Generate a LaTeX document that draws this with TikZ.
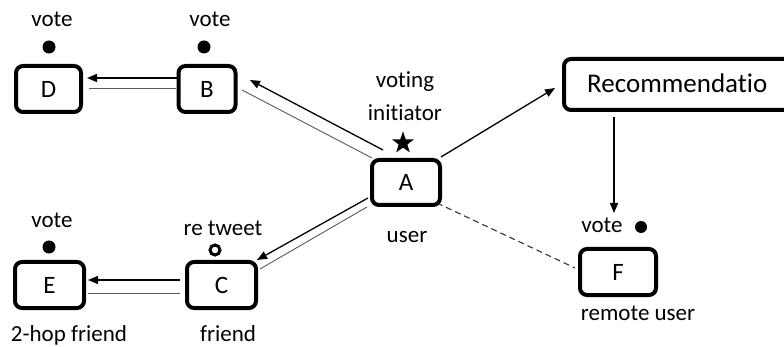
\documentclass[tikz,border=0pt]{standalone}
\usepackage{fontspec}
\setmainfont[Ligatures=NoCommon]{Carlito}
\usetikzlibrary{arrows.meta,shapes.geometric}
\tikzset{
  box/.style={draw=black, line width=4pt, rounded corners=7pt, inner sep=0pt, minimum height=46pt, font=\fontsize{25}{29}\selectfont},
  lbl/.style={inner sep=0pt, anchor=base, font=\fontsize{23}{27}\selectfont},
  arr/.style={draw=black, line width=1.3pt, -{Triangle[length=10pt,width=8pt]}},
  plain/.style={draw=black!65, line width=0.9pt},
  dashln/.style={draw=black!80, line width=1.1pt, dash pattern=on 6pt off 4pt},
  dot/.style={circle, fill=black, inner sep=0pt, minimum size=13pt},
  odot/.style={circle, draw=black, line width=3pt, inner sep=0pt, minimum size=10pt},
}
\begin{document}
\begin{tikzpicture}[x=1pt, y=-1pt]
\useasboundingbox (0,0) rectangle (784,347);
\clip (0,0) rectangle (784,347);
% boxes
\node[box, minimum width=65pt] (D) at (48.5,89) {D};
\node[box, minimum width=57pt] (B) at (207,89) {B};
\node[box, minimum width=68pt, minimum height=45pt] (A) at (406,182.5) {A};
\node[box, minimum width=69pt] (C) at (221.5,285) {C};
\node[box, minimum width=69pt] (E) at (49.5,285) {E};
\node[box, minimum width=76pt] (F) at (618,272) {F};
\node[box, minimum width=236pt, minimum height=51pt] (R) at (682,84.5) {};
\node[inner sep=0pt, anchor=base west, font=\fontsize{27}{32}\selectfont] (Rt) at (587,93) {Recommendatio};
% labels
\node[lbl] (vD) at (52,27) {vote};
\node[lbl] (vB) at (210,27) {vote};
\node[lbl] (vt1) at (405,88) {voting};
\node[lbl] (vt2) at (405,121) {initiator};
\node[lbl] (uA) at (407,243) {user};
\node[lbl] (vE) at (52,228) {vote};
\node[lbl] (rt) at (223,236) {re tweet};
\node[lbl] (hop) at (69,341) {2-hop friend};
\node[lbl] (fr) at (228,341) {friend};
\node[lbl] (vF) at (602,233) {vote};
\node[lbl] (ru) at (638,320) {remote user};
% markers
\node[dot] (dD) at (49,47) {};
\node[dot] (dB) at (204,47) {};
\node[dot] (dE) at (49,247) {};
\node[dot, minimum size=12pt] (dF) at (641,227) {};
\node[odot] (oC) at (215,250) {};
\node[star, star points=5, star point ratio=2.5, fill=black, inner sep=0pt, minimum size=23pt] (st) at (403,143) {};
% connectors
\draw[arr] ([shift={(-30,-11)}]B.center) -- ([shift={(38.5,-11)}]D.center);
\draw[plain] ([shift={(-31,-1)}]B.center) -- ([shift={(40.5,-1)}]D.center);
\draw[arr] ([shift={(-41.5,-5)}]C.center) -- ([shift={(38.5,-5)}]E.center);
\draw[plain] ([shift={(-41.5,8)}]C.center) -- ([shift={(38.5,8)}]E.center);
\draw[arr] ([shift={(-23,-32.5)}]A.center) -- ([shift={(43,-9)}]B.center);
\draw[plain] ([shift={(-34,-24.5)}]A.center) -- ([shift={(35,1)}]B.center);
\draw[arr] ([shift={(-38,15.5)}]A.center) -- ([shift={(35.5,-25)}]C.center);
\draw[plain] ([shift={(-39,24.5)}]A.center) -- ([shift={(38.5,-16)}]C.center);
\draw[arr] ([shift={(35,-25.5)}]A.center) -- ([shift={(-127,3.5)}]R.center);
\draw[arr] ([shift={(-68,32.5)}]R.center) -- ([shift={(-4,-59)}]F.center);
\draw[dashln] ([shift={(31,20.5)}]A.center) -- ([shift={(-43,-4)}]F.center);
\end{tikzpicture}
\end{document}
